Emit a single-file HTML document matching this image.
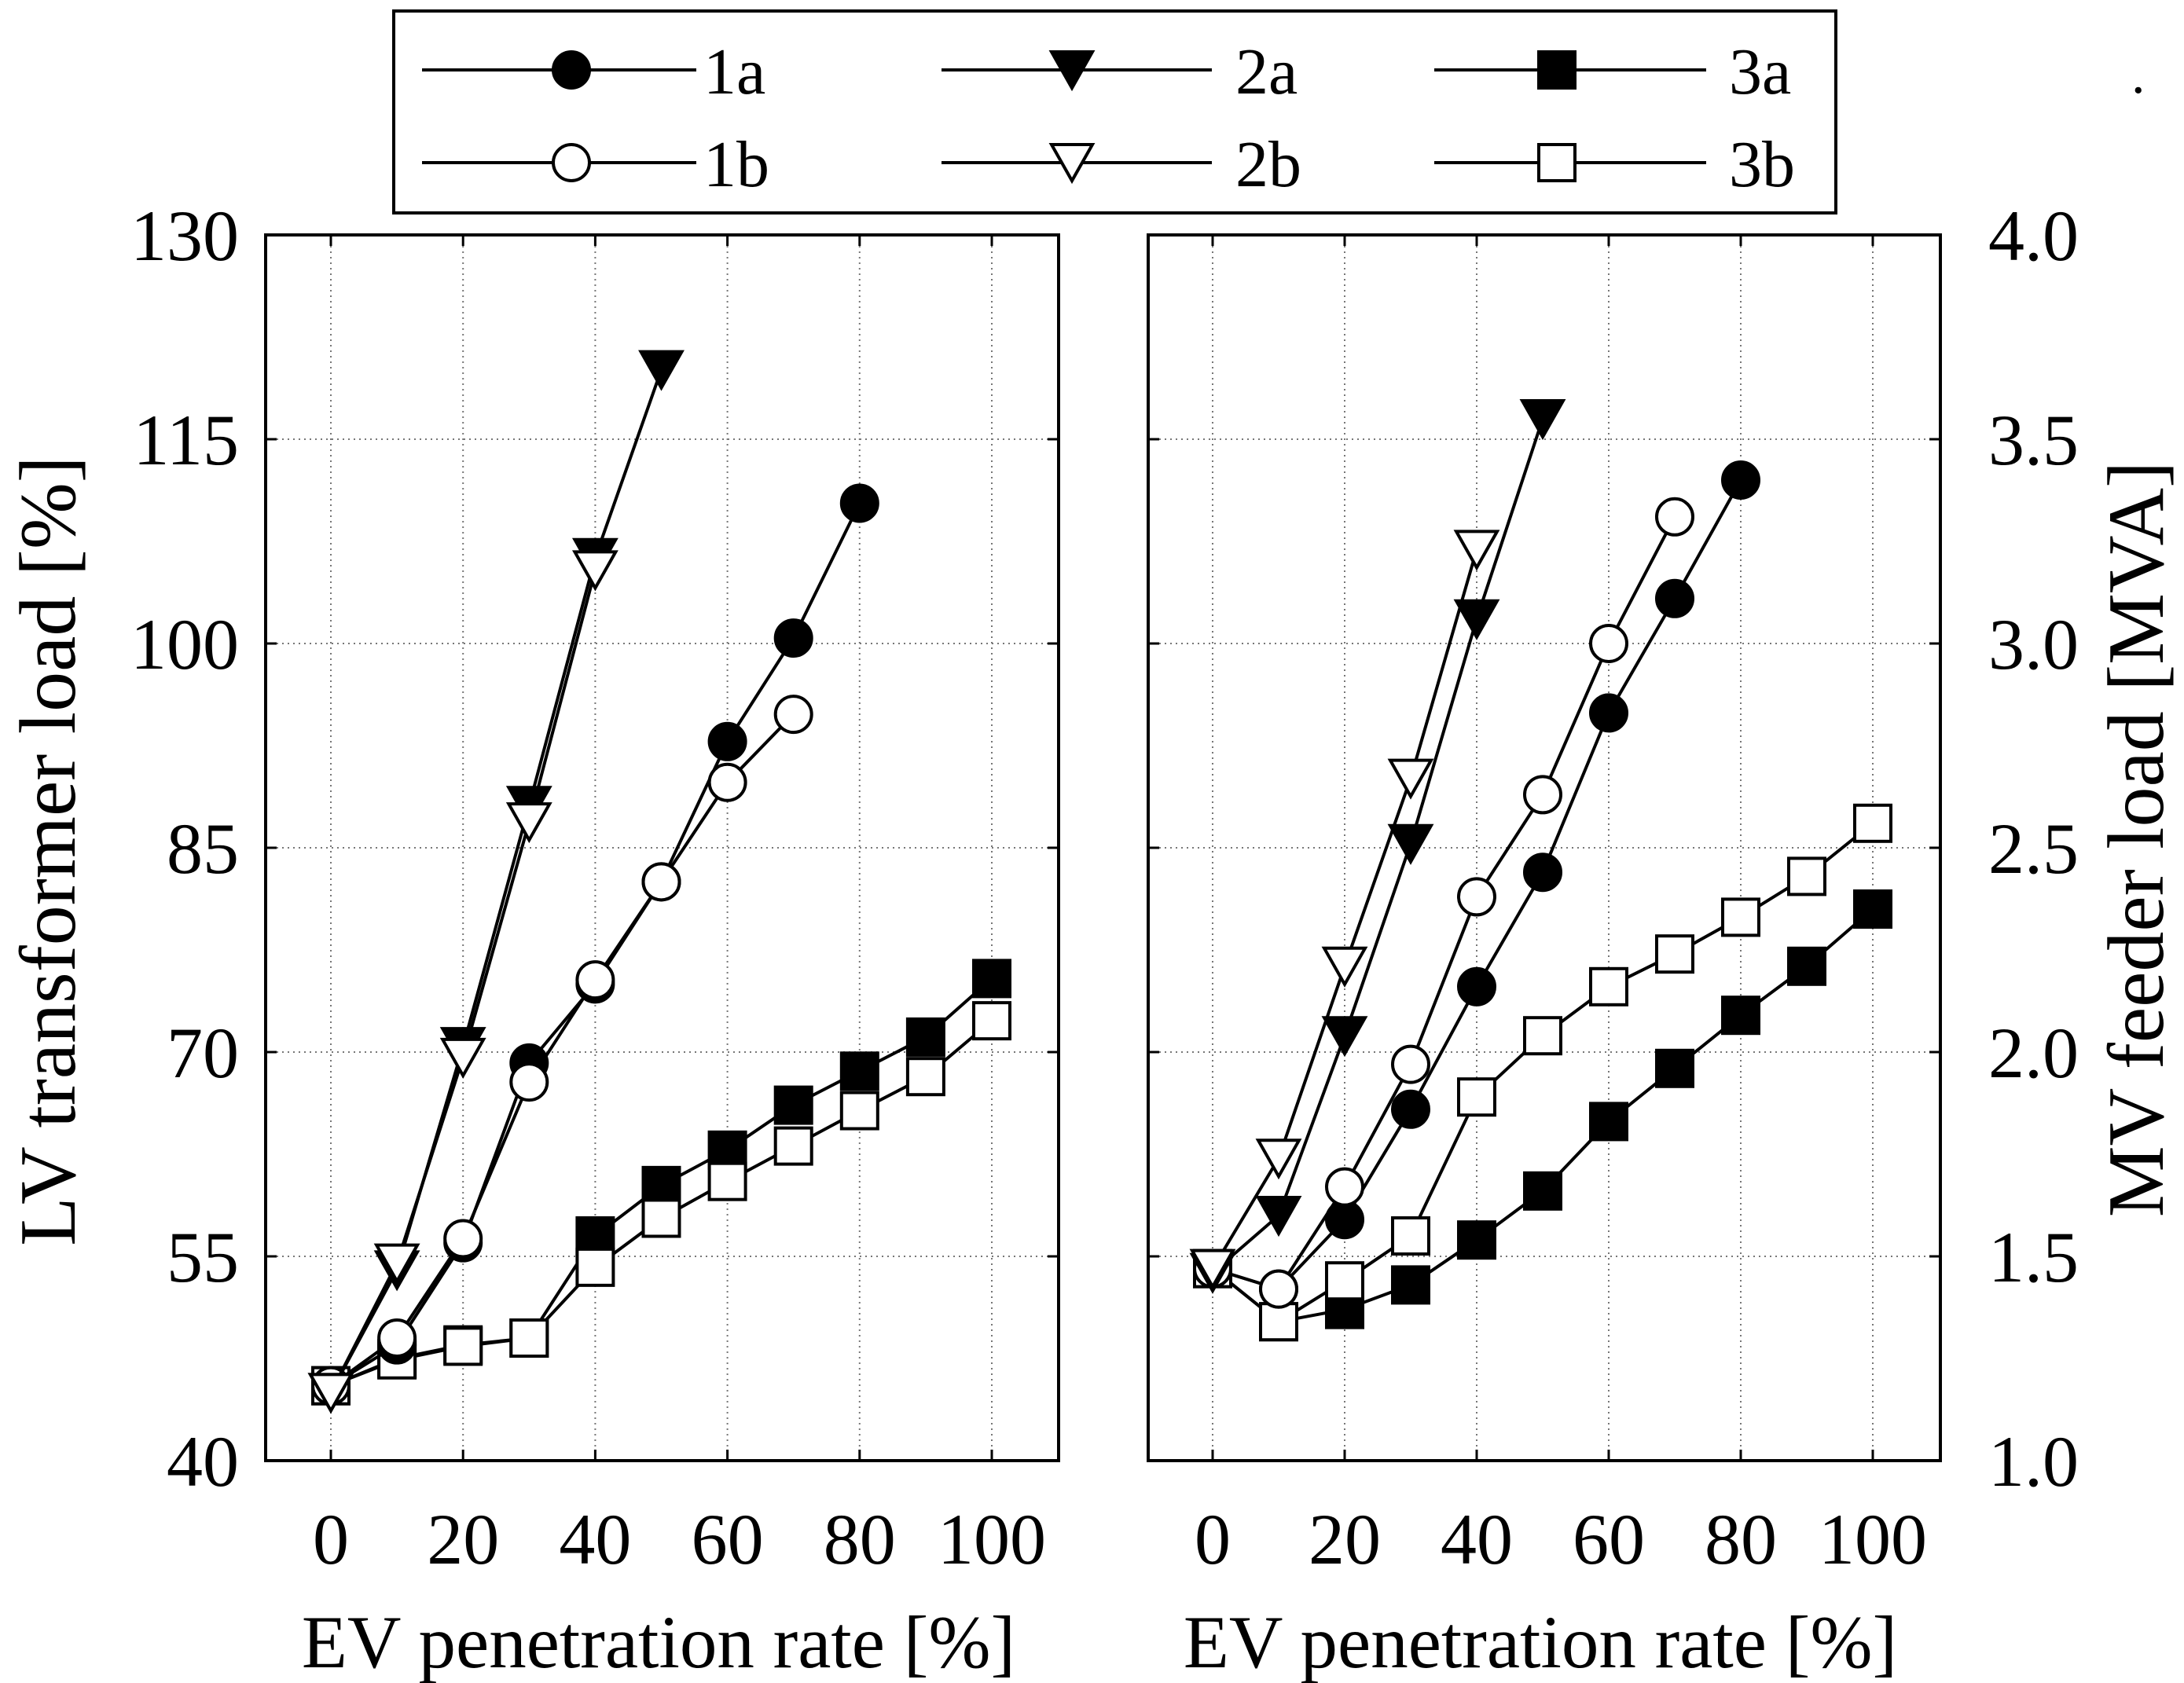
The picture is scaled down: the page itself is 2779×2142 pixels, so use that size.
<!DOCTYPE html>
<html><head><meta charset="utf-8"><style>
html,body{margin:0;padding:0;background:#fff}
svg{display:block;font-family:"Liberation Serif",serif}
</style></head><body>
<svg id="c" width="2779" height="2142" viewBox="0 0 2779 2142"></svg>
<script>
const xCats=[0,10,20,30,40,50,60,70,80,90,100];
const xTicks=[0,20,40,60,80,100];
const leftTicks=[40,55,70,85,100,115,130];
const rightTicks=[1.0,1.5,2.0,2.5,3.0,3.5,4.0];
const L1a=[45.5,48.5,56,69.2,75,82.5,92.8,100.4,110.3];
const L1b=[45.5,49,56.3,67.8,75.3,82.5,89.8,94.8];
const L2a=[45,54,70.4,88.1,106.3,120.1];
const L2b=[45,54.5,69.6,86.9,105.4];
const L3a=[45.5,47.5,48.5,49,56.5,60.2,62.8,66.1,68.6,71.1,75.4];
const L3b=[45.5,47.4,48.4,49,54.2,57.8,60.5,63.1,65.7,68.2,72.3];
const R1a=[1.47,1.42,1.59,1.86,2.16,2.44,2.83,3.11,3.40];
const R1b=[1.47,1.42,1.67,1.97,2.38,2.63,3.0,3.31];
const R2a=[1.46,1.60,2.04,2.51,3.06,3.55];
const R2b=[1.47,1.74,2.21,2.67,3.23];
const R3a=[1.47,1.34,1.37,1.43,1.54,1.66,1.83,1.96,2.09,2.21,2.35];
const R3b=[1.47,1.34,1.44,1.55,1.89,2.04,2.16,2.24,2.33,2.43,2.56];

const NS="http://www.w3.org/2000/svg";
const svg=document.getElementById('c');
function mk(t,a,p){const e=document.createElementNS(NS,t);for(const k in a)e.setAttribute(k,a[k]);(p||svg).appendChild(e);return e;}
function marker(g,type,x,y){
  const r=23;let e;
  if(type[1]==='c'){e=mk('circle',{cx:x,cy:y,r:r},g);}
  else if(type[1]==='s'){e=mk('rect',{x:x-r,y:y-r,width:2*r,height:2*r},g);}
  else {e=mk('polygon',{points:`${x-r-3},${y-r} ${x+r+3},${y-r} ${x},${y+r}`},g);}
  e.setAttribute('fill',type[0]==='f'?'#000':'#fff');
  e.setAttribute('stroke','#000');e.setAttribute('stroke-width','4');
  return e;
}
function panel(name,bx0,bx1,xs0,xs1,ymin,ymax,ticks,series,tickX,anchor,fmt){
  const top=299,bot=1859;
  const X=v=>xs0+(v-0)/100*(xs1-xs0);
  const Y=v=>bot-(v-ymin)/(ymax-ymin)*(bot-top);
  const g=mk('g',{});
  
  
  xTicks.forEach(t=>{
    const l=mk('line',{x1:X(t),x2:X(t),y1:top,y2:bot,stroke:'#777','stroke-width':2,'stroke-dasharray':'2,5'},g);
    
    mk('line',{x1:X(t),x2:X(t),y1:top,y2:top+14,stroke:'#000','stroke-width':3},g);
    mk('line',{x1:X(t),x2:X(t),y1:bot,y2:bot-14,stroke:'#000','stroke-width':3},g);
    const tx=mk('text',{x:X(t),y:1990,'font-size':92,'text-anchor':'middle'},g);tx.textContent=t;
    
  });
  ticks.forEach(t=>{
    const y=Y(t);
    if(y>top+2&&y<bot-2){
      const l=mk('line',{x1:bx0,x2:bx1,y1:y,y2:y,stroke:'#777','stroke-width':2,'stroke-dasharray':'2,5'},g);
      
    }
    mk('line',{x1:bx0,x2:bx0+14,y1:y,y2:y,stroke:'#000','stroke-width':3},g);
    mk('line',{x1:bx1,x2:bx1-14,y1:y,y2:y,stroke:'#000','stroke-width':3},g);
    if(tickX!==null){
      const tx=mk('text',{x:tickX,y:y+32,'font-size':92,'text-anchor':anchor},g);tx.textContent=fmt(t);
      
    }
  });
  series.forEach(([nm,type,vals])=>{
    const sg=mk('g',{},g);
    
    const pts=vals.map((v,i)=>X(xCats[i])+','+Y(v)).join(' ');
    mk('polyline',{points:pts,fill:'none',stroke:'#000','stroke-width':4},sg);
    vals.forEach((v,i)=>{const m=marker(sg,type,X(xCats[i]),Y(v));
      });
  });
  const fr=mk('rect',{x:bx0,y:top,width:bx1-bx0,height:bot-top,fill:'none',stroke:'#000','stroke-width':4},g);
  
}
panel('left-panel',338,1347,421,1262,40,130,leftTicks,
 [['3a','fs',L3a],['3b','os',L3b],['1a','fc',L1a],['1b','oc',L1b],['2a','ft',L2a],['2b','ot',L2b]],
 304,'end',t=>t);
panel('right-panel',1461,2469,1543,2383,1.0,4.0,rightTicks,
 [['3a','fs',R3a],['3b','os',R3b],['1a','fc',R1a],['1b','oc',R1b],['2a','ft',R2a],['2b','ot',R2b]],
 2530,'start',t=>t.toFixed(1));

function txt(s,a,name){const t=mk('text',a);t.textContent=s;return t;}
txt('EV penetration rate [%]',{x:838,y:2122,'font-size':95,'text-anchor':'middle'},'left-x-axis-title');
txt('EV penetration rate [%]',{x:1960,y:2122,'font-size':95,'text-anchor':'middle'},'right-x-axis-title');
txt('LV transformer load [%]',{x:0,y:0,'font-size':102,'text-anchor':'middle',transform:'translate(95,1083) rotate(-90)'},'left-y-axis-title');
txt('MV feeder load [MVA]',{x:0,y:0,'font-size':102,'text-anchor':'middle',transform:'translate(2752,1068) rotate(-90)'},'right-y-axis-title');
txt('.',{x:2712,y:118,'font-size':70},'stray-dot');

const lg=mk('g',{});

mk('rect',{x:501,y:14,width:1835,height:257,fill:'#fff',stroke:'#000','stroke-width':4},lg);
const legNames=['1a','2a','3a','1b','2b','3b'];
const legTypes=['fc','ft','fs','oc','ot','os'];
const cols=[[537,886,727,895],[1198,1542,1364,1572],[1825,2171,1981,2200]];
legNames.forEach((n,i)=>{
  const c=cols[i%3],y=i<3?89:207;
  const e=mk('g',{},lg);
  
  mk('line',{x1:c[0],x2:c[1],y1:y,y2:y,stroke:'#000','stroke-width':4},e);
  marker(e,legTypes[i],c[2],y);
  const t=mk('text',{x:c[3],y:y+30,'font-size':84},e);t.textContent=n;
});
</script>
</body></html>
